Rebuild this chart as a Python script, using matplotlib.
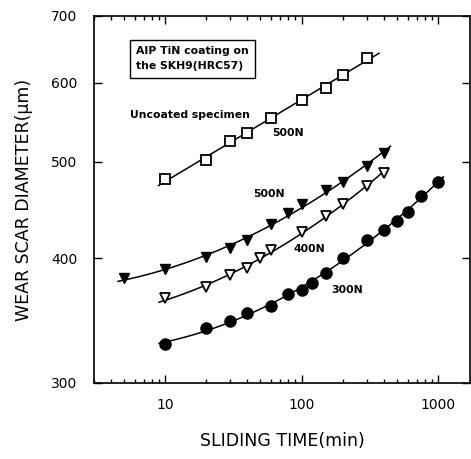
import numpy as np
import matplotlib
matplotlib.use("Agg")
import matplotlib.pyplot as plt
from matplotlib.ticker import FixedLocator, NullLocator, FixedFormatter, LogLocator

plt.rcParams['font.family'] = ['DejaVu Sans']

# Data (sliding time in min, wear scar diameter in um)
t_uncoated = [10, 20, 30, 40, 60, 100, 150, 200, 300]
d_uncoated = [481, 502, 524, 534, 553, 577, 593, 611, 635]

t_500 = [5, 10, 20, 30, 40, 60, 80, 100, 150, 200, 300, 400]
d_500 = [382, 390, 401, 410, 417, 433, 444, 453, 468, 477, 495, 510]

t_400 = [10, 20, 30, 40, 50, 60, 100, 150, 200, 300, 400]
d_400 = [365, 374, 385, 391, 400, 408, 425, 441, 453, 473, 487]

t_300 = [10, 20, 30, 40, 60, 80, 100, 120, 150, 200, 300, 400, 500, 600, 750, 1000]
d_300 = [328, 341, 346, 353, 358, 368, 372, 378, 387, 400, 417, 427, 436, 445, 462, 477]

x_ticks = [10, 100, 1000]
y_ticks = [300, 400, 500, 600, 700]

fig = plt.figure(figsize=(4.71, 4.59), dpi=100)
ax = fig.add_axes([0.1996, 0.1656, 0.798, 0.7996])
ax.set_xscale('log')
ax.set_yscale('log')


def fit_curve(t, d, deg, t0, t1):
    lt = np.log10(t)
    ld = np.log10(d)
    p = np.polyfit(lt, ld, deg)
    xs = np.linspace(np.log10(t0), np.log10(t1), 200)
    return 10 ** xs, 10 ** np.polyval(p, xs)


lw = 1.1
xs, ys = fit_curve(t_uncoated, d_uncoated, 1, 8.9, 370)
ax.plot(xs, ys, color='black', lw=lw)
ax.plot(t_uncoated, d_uncoated, linestyle='none', marker='s', ms=6.5,
        mfc='white', mec='black', mew=1.3)

xs, ys = fit_curve(t_500, d_500, 2, 4.5, 450)
ax.plot(xs, ys, color='black', lw=lw)
ax.plot(t_500, d_500, linestyle='none', marker='v', ms=7,
        mfc='black', mec='black')

xs, ys = fit_curve(t_400, d_400, 2, 9, 430)
ax.plot(xs, ys, color='black', lw=lw)
ax.plot(t_400, d_400, linestyle='none', marker='v', ms=7,
        mfc='white', mec='black', mew=1.3)

xs, ys = fit_curve(t_300, d_300, 2, 9, 1100)
ax.plot(xs, ys, color='black', lw=lw)
ax.plot(t_300, d_300, linestyle='none', marker='o', ms=8,
        mfc='black', mec='black')

ax.set_xlim(3, 1720)
ax.set_ylim(300, 700)

ax.xaxis.set_major_locator(FixedLocator(x_ticks))
ax.xaxis.set_major_formatter(FixedFormatter([str(v) for v in x_ticks]))
ax.xaxis.set_minor_locator(LogLocator(base=10, subs=np.arange(2, 10)))
ax.xaxis.set_minor_formatter(plt.NullFormatter())
ax.yaxis.set_major_locator(FixedLocator(y_ticks))
ax.yaxis.set_major_formatter(FixedFormatter([str(v) for v in y_ticks]))
ax.yaxis.set_minor_locator(NullLocator())

ax.tick_params(which='both', direction='in', top=True, right=True,
               labelsize=10, width=1)
ax.tick_params(axis='x', which='major', length=6, pad=11)
ax.tick_params(axis='y', which='major', length=6, pad=12)
ax.tick_params(which='minor', length=3)
for s in ax.spines.values():
    s.set_linewidth(1.2)

ax.set_xlabel('SLIDING TIME(min)', fontsize=12.5, labelpad=14)
ax.set_ylabel('WEAR SCAR DIAMETER(μm)', fontsize=12.5, labelpad=13)

bold = dict(fontsize=7.8, fontweight='bold', color='black')
ax.text(0.112, 0.917, 'AIP TiN coating on\nthe SKH9(HRC57)', transform=ax.transAxes,
        ha='left', va='top', linespacing=1.6,
        bbox=dict(boxstyle='square,pad=0.6', fc='white', ec='black', lw=1), **bold)
ax.text(0.096, 0.730, 'Uncoated specimen', transform=ax.transAxes, ha='left', va='center', **bold)
ax.text(0.515, 0.680, '500N', transform=ax.transAxes, ha='center', va='center', **bold)
ax.text(0.465, 0.515, '500N', transform=ax.transAxes, ha='center', va='center', **bold)
ax.text(0.572, 0.365, '400N', transform=ax.transAxes, ha='center', va='center', **bold)
ax.text(0.673, 0.253, '300N', transform=ax.transAxes, ha='center', va='center', **bold)

fig.savefig('out.png', dpi=100)
